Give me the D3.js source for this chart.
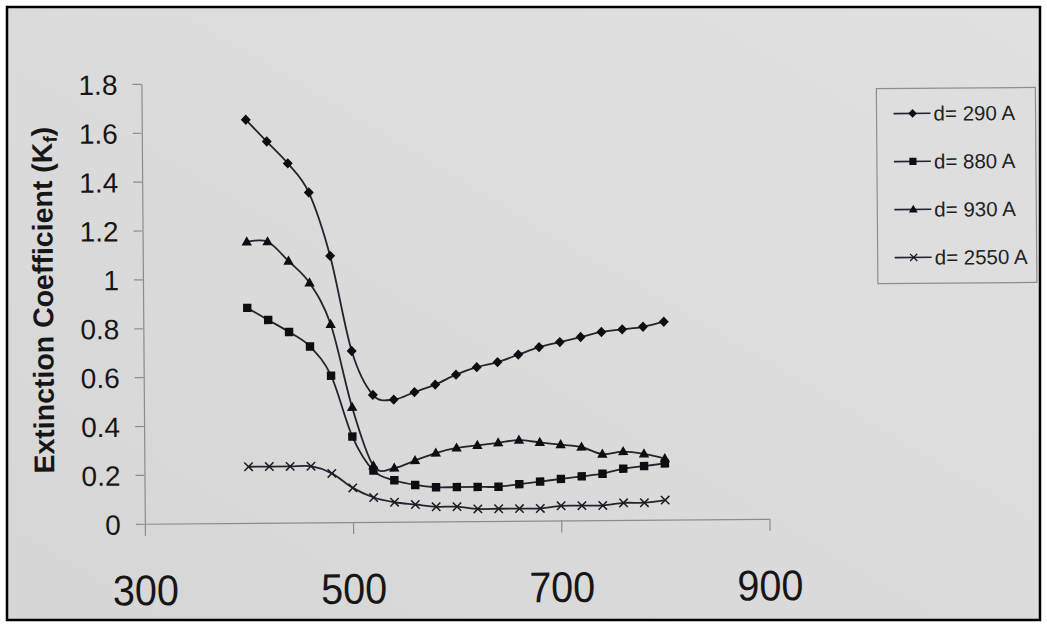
<!DOCTYPE html>
<html>
<head>
<meta charset="utf-8">
<script src="https://cdn.jsdelivr.net/npm/d3@7"></script>
<style>
  html, body { margin: 0; padding: 0; background: #ffffff; }
  svg { display: block; }
</style>
</head>
<body>
<svg id="chart" width="1047" height="626"></svg>
<script>
// Wavelength (nm) and extinction coefficient K_f for four film thicknesses
const wavelength = [400, 420, 440, 460, 480, 500, 520, 540, 560, 580, 600,
                    620, 640, 660, 680, 700, 720, 740, 760, 780, 800];
const k290  = [1.65, 1.56, 1.47, 1.35, 1.09, 0.70, 0.52, 0.50, 0.53, 0.56, 0.60,
               0.63, 0.65, 0.68, 0.71, 0.73, 0.75, 0.77, 0.78, 0.79, 0.81];
const k880  = [0.88, 0.83, 0.78, 0.72, 0.60, 0.35, 0.21, 0.17, 0.15, 0.14, 0.14,
               0.14, 0.14, 0.15, 0.16, 0.17, 0.18, 0.19, 0.21, 0.22, 0.23];
const k930  = [1.15, 1.15, 1.07, 0.98, 0.81, 0.47, 0.23, 0.22, 0.25, 0.28, 0.30,
               0.31, 0.32, 0.33, 0.32, 0.31, 0.30, 0.27, 0.28, 0.27, 0.25];
const k2550 = [0.23, 0.23, 0.23, 0.23, 0.20, 0.14, 0.10, 0.08, 0.07, 0.06, 0.06,
               0.05, 0.05, 0.05, 0.05, 0.06, 0.06, 0.06, 0.07, 0.07, 0.08];

const seriesNames = ["d= 290 A", "d= 880 A", "d= 930 A", "d= 2550 A"];
const seriesMarkers = ["diamond", "square", "triangle", "cross"];
const seriesValues = [k290, k880, k930, k2550];

const xTicks = [300, 500, 700, 900];
const yTicks = [0, 0.2, 0.4, 0.6, 0.8, 1, 1.2, 1.4, 1.6, 1.8];
const yTickLabels = ["0", "0.2", "0.4", "0.6", "0.8", "1", "1.2", "1.4", "1.6", "1.8"];

const svg = d3.select("#chart");

// Page background and slide frame
svg.append("rect").attr("width", 1047).attr("height", 626).attr("fill", "#ffffff");
const bg = svg.append("defs").append("linearGradient")
  .attr("id", "bgGrad").attr("x1", "0").attr("y1", "1").attr("x2", "1").attr("y2", "0");
bg.append("stop").attr("offset", "0").attr("stop-color", "#d6d6d6");
bg.append("stop").attr("offset", "1").attr("stop-color", "#e0e0e0");
svg.append("rect")
  .attr("x", 7).attr("y", 7).attr("width", 1033).attr("height", 613)
  .attr("fill", "url(#bgGrad)")
  .attr("stroke", "#000").attr("stroke-width", 2.5);

const g = svg.append("g").attr("transform", "rotate(-0.45 456 300)");

const x = d3.scaleLinear().domain([300, 900]).range([143.1, 767.7]);
const y = d3.scaleLinear().domain([0, 1.8]).range([521.3, 81.4]);

// Y axis
const yAxis = g.append("g")
  .attr("transform", `translate(${x(300)},0)`)
  .call(d3.axisLeft(y).tickValues(yTicks).tickSize(9).tickSizeOuter(0).tickPadding(15)
        .tickFormat((d, i) => yTickLabels[i]));
yAxis.select(".domain").attr("stroke", "#8c8c8c").attr("stroke-width", 1.2);
yAxis.selectAll(".tick line").attr("stroke", "#8c8c8c").attr("stroke-width", 1.2);
yAxis.selectAll(".tick text")
  .attr("font-family", "Liberation Sans, Arial, sans-serif")
  .attr("font-size", 28).attr("fill", "#161616").attr("dy", "0.36em");

// X axis
const xAxis = g.append("g")
  .attr("transform", `translate(0,${y(0)})`)
  .call(d3.axisBottom(x).tickValues(xTicks).tickSize(12).tickSizeOuter(0).tickPadding(39)
        .tickFormat(d3.format("d")));
xAxis.select(".domain").attr("stroke", "#8c8c8c").attr("stroke-width", 1.2);
xAxis.selectAll(".tick line").attr("stroke", "#8c8c8c").attr("stroke-width", 1.2);
xAxis.selectAll(".tick text")
  .attr("font-family", "Liberation Sans, Arial, sans-serif")
  .attr("font-size", 43).attr("fill", "#161616")
  .attr("textLength", 66).attr("lengthAdjust", "spacingAndGlyphs");

// Y axis title
const title = g.append("text")
  .attr("transform", "translate(53,297) rotate(-90)")
  .attr("text-anchor", "middle")
  .attr("font-family", "Liberation Sans, Arial, sans-serif")
  .attr("font-weight", "bold").attr("font-size", 28.5).attr("fill", "#161616");
title.append("tspan").text("Extinction Coefficient (K");
title.append("tspan").attr("font-size", 19).attr("dy", 5).text("f");
title.append("tspan").attr("dy", -5).text(")");

// Marker shapes
function markerPath(type) {
  switch (type) {
    case "diamond": return "M0,-5.2L5,0L0,5.2L-5,0Z";
    case "square": return "M-4.2,-4.2H4.2V4.2H-4.2Z";
    case "triangle": return "M0,-5.6L5.2,3.6H-5.2Z";
    case "cross": return "M-4.2,-4.2L4.2,4.2M-4.2,4.2L4.2,-4.2";
  }
}
function drawMarker(sel, type) {
  const p = sel.append("path").attr("d", markerPath(type));
  if (type === "cross") p.attr("fill", "none").attr("stroke", "#1a1a22").attr("stroke-width", 1.5);
  else p.attr("fill", "#0e0e12");
  return p;
}

const line = d3.line()
  .x((d, i) => x(wavelength[i]))
  .y(d => y(d))
  .curve(d3.curveCatmullRom.alpha(0));

seriesValues.forEach((vals, s) => {
  const sg = g.append("g");
  sg.append("path").datum(vals)
    .attr("d", line)
    .attr("fill", "none").attr("stroke", "#26232c").attr("stroke-width", 1.8);
  sg.selectAll("g.pt").data(vals).join("g")
    .attr("class", "pt")
    .attr("transform", (d, i) => `translate(${x(wavelength[i])},${y(d)})`)
    .each(function () { drawMarker(d3.select(this), seriesMarkers[s]); });
});

// Legend
const legend = g.append("g");
legend.append("rect")
  .attr("x", 878).attr("y", 92).attr("width", 159).attr("height", 195)
  .attr("fill", "#dedede").attr("stroke", "#8e8e8e").attr("stroke-width", 1.2);
seriesNames.forEach((name, s) => {
  const cy = 117 + s * 48;
  const row = legend.append("g");
  row.append("line").attr("x1", 895).attr("x2", 932).attr("y1", cy).attr("y2", cy)
    .attr("stroke", "#26232c").attr("stroke-width", 1.7);
  drawMarker(row.append("g").attr("transform", `translate(914,${cy}) scale(0.85)`), seriesMarkers[s]);
  row.append("text").attr("x", 935).attr("y", cy).attr("dy", "0.36em")
    .attr("font-family", "Liberation Sans, Arial, sans-serif")
    .attr("font-size", 20.5).attr("fill", "#222")
    .text(name);
});
</script>
</body>
</html>
